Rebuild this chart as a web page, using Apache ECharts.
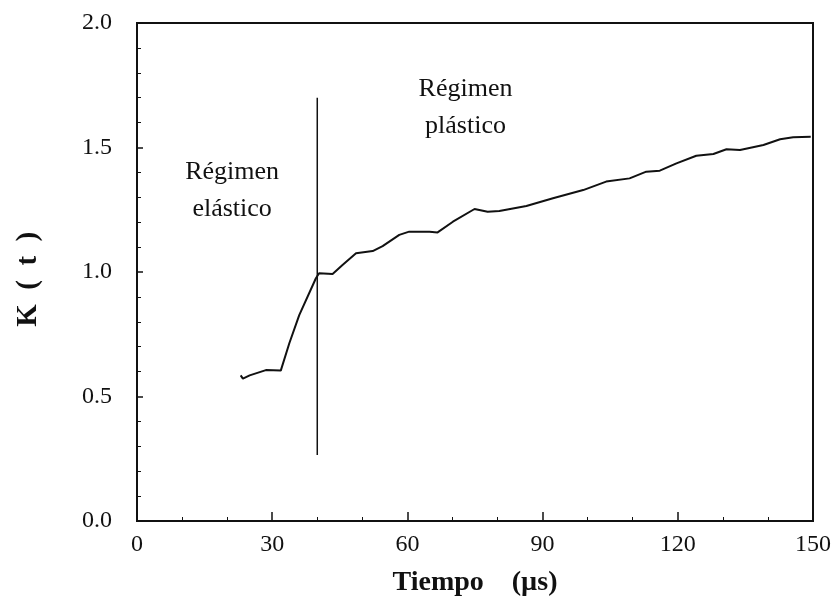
<!DOCTYPE html>
<html><head><meta charset="utf-8">
<script src="https://cdn.jsdelivr.net/npm/echarts@6/dist/echarts.min.js"></script>
<style>html,body{margin:0;padding:0;background:#fff}#c{width:837px;height:604px}</style>
</head><body><div id="c"></div>
<script>
var timeUs = [23, 23.5, 25, 28.6, 31.9, 33.8, 36, 39.7, 40.4, 43.4, 45.6, 48.6, 52.3, 54.5, 58.2, 60.4, 64.9, 66.7, 70.1, 74.9, 77.8, 80.4, 86.4, 92.3, 99, 104.1, 109.3, 113, 116, 119.7, 124.1, 127.9, 130.8, 133.8, 139, 142.7, 145.6, 149.5];
var kValues = [0.585, 0.572, 0.585, 0.606, 0.604, 0.714, 0.827, 0.975, 0.995, 0.992, 1.028, 1.075, 1.084, 1.104, 1.149, 1.162, 1.162, 1.159, 1.202, 1.253, 1.242, 1.245, 1.265, 1.296, 1.329, 1.363, 1.376, 1.403, 1.407, 1.436, 1.467, 1.474, 1.493, 1.490, 1.510, 1.533, 1.541, 1.543];
var dividerX = [40, 40];
var dividerY = [0.265, 1.70];
var labelTexts = ['Régimen\nelástico', 'Régimen\nplástico'];
var labelX = [21.1, 72.9];
var labelY = [1.325, 1.659];
var xTicks = [0, 30, 60, 90, 120, 150];
var yTicks = [0.0, 0.5, 1.0, 1.5, 2.0];

var serif = '"Liberation Serif", "DejaVu Serif", serif';
var lineData = timeUs.map(function (t, i) { return [t, kValues[i]]; });
var divData = dividerX.map(function (x, i) { return [x, dividerY[i]]; });
var lblData = labelTexts.map(function (s, i) { return { name: s, value: [labelX[i], labelY[i]] }; });

var chart = echarts.init(document.getElementById('c'), null, { renderer: 'canvas' });
chart.setOption({
  animation: false,
  backgroundColor: '#fff',
  grid: { left: 137, right: 24, top: 23, bottom: 83, show: true, borderColor: '#111', borderWidth: 2, backgroundColor: 'transparent' },
  xAxis: {
    type: 'value', min: 0, max: 150, interval: 30,
    name: 'Tiempo    (µs)', nameLocation: 'middle', nameGap: 48,
    nameTextStyle: { fontFamily: serif, fontSize: 28, fontWeight: 'bold', color: '#111' },
    axisLine: { show: true, lineStyle: { color: '#111', width: 2 } },
    axisTick: { show: true, inside: true, length: 9, lineStyle: { color: '#111', width: 1.5 } },
    minorTick: { show: true, splitNumber: 3, length: 4, lineStyle: { color: '#111', width: 1 } },
    splitLine: { show: false },
    axisLabel: { fontFamily: serif, fontSize: 24, color: '#111', margin: 12,
      formatter: function (v) { return xTicks.indexOf(v) >= 0 ? String(v) : ''; } }
  },
  yAxis: {
    type: 'value', min: 0, max: 2, interval: 0.5,
    name: 'K  (  t  )  ', nameLocation: 'middle', nameGap: 94, nameRotate: 90,
    nameTextStyle: { fontFamily: serif, fontSize: 29, fontWeight: 'bold', color: '#111' },
    axisLine: { show: true, lineStyle: { color: '#111', width: 2 } },
    axisTick: { show: true, inside: true, length: 6, lineStyle: { color: '#111', width: 1.5 } },
    minorTick: { show: true, splitNumber: 5, length: 4, lineStyle: { color: '#111', width: 1 } },
    splitLine: { show: false },
    axisLabel: { fontFamily: serif, fontSize: 24, color: '#111', margin: 25,
      formatter: function (v) { return yTicks.indexOf(v) >= 0 ? v.toFixed(1) : ''; } }
  },
  series: [
    { type: 'line', data: lineData, showSymbol: false, smooth: false,
      lineStyle: { color: '#111', width: 2 }, z: 3 },
    { type: 'line', data: divData, showSymbol: false,
      lineStyle: { color: '#111', width: 1.5 }, z: 2 },
    { type: 'scatter', data: lblData, symbolSize: 0, itemStyle: { opacity: 1 },
      label: { show: true, position: 'inside', formatter: '{b}', fontFamily: serif, opacity: 1,
        fontSize: 26, lineHeight: 37, color: '#111', align: 'center', verticalAlign: 'middle' } }
  ]
});
</script></body></html>
